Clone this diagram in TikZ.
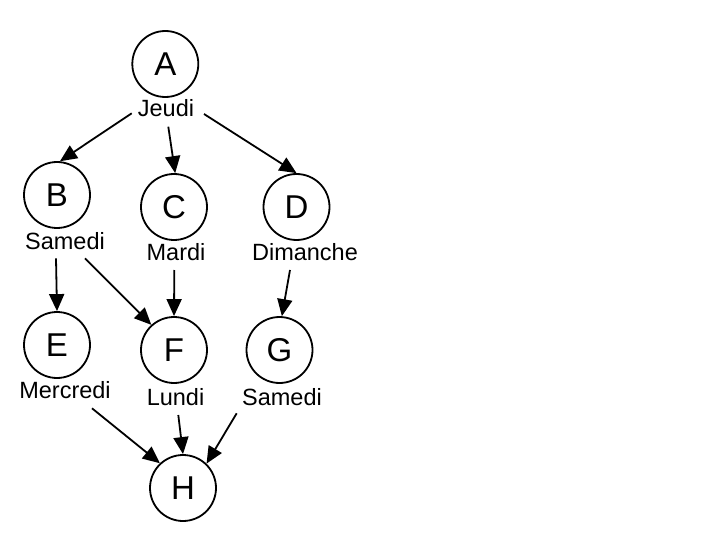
\documentclass[tikz,border=0pt]{standalone}
\usepackage{fontspec}
\setmainfont{Liberation Sans}
\usetikzlibrary{arrows.meta}
\begin{document}
\begin{tikzpicture}[x=1pt,y=-1pt,
  vtx/.style={circle,draw,line width=1.8pt,minimum size=66pt,inner sep=0pt,font=\fontsize{33}{36}\selectfont},
  lbl/.style={inner sep=0pt,font=\fontsize{23.5}{26}\selectfont},
  edge/.style={line width=1.8pt,-{Triangle[length=17pt,width=15pt]}}]
\useasboundingbox (0,0) rectangle (720,540);
\node[vtx] (A) at (165.3,64) {A};
\node[lbl] (lA) at (166,108) {Jeudi};
\node[vtx] (B) at (57,195) {B};
\node[lbl] (lB) at (65,241) {Samedi};
\node[vtx] (C) at (174,207) {C};
\node[lbl] (lC) at (176,252) {Mardi};
\node[vtx] (D) at (296.5,207) {D};
\node[lbl] (lD) at (305,252) {Dimanche};
\node[vtx] (E) at (57,345) {E};
\node[lbl] (lE) at (65,390) {Mercredi};
\node[vtx] (F) at (174,350) {F};
\node[lbl] (lF) at (175.5,397) {Lundi};
\node[vtx] (G) at (279.5,350) {G};
\node[lbl] (lG) at (282,397) {Samedi};
\node[vtx] (H) at (183,488) {H};
\coordinate (sAB) at (131.7,113.3);
\coordinate (sAC) at (168.3,126.7);
\coordinate (sAD) at (204,114);
\coordinate (sBE) at (56,258.3);
\coordinate (sBF) at (85,258.3);
\coordinate (sCF) at (174.3,270);
\coordinate (sDG) at (290,270);
\coordinate (sEH) at (92,408.3);
\coordinate (sFH) at (178.3,415);
\coordinate (sGH) at (236.7,413.3);
\draw[edge] (sAB) -- (B.85);
\draw[edge] (sAC) -- (C.88);
\draw[edge] (sAD) -- (D.90);
\draw[edge] (sBE) -- (E.90);
\draw[edge] (sBF) -- (F.132);
\draw[edge] (sCF) -- (F.90);
\draw[edge] (sDG) -- (G.86);
\draw[edge] (sEH) -- (H.133);
\draw[edge] (sFH) -- (H.90);
\draw[edge] (sGH) -- (H.46);
\end{tikzpicture}
\end{document}
